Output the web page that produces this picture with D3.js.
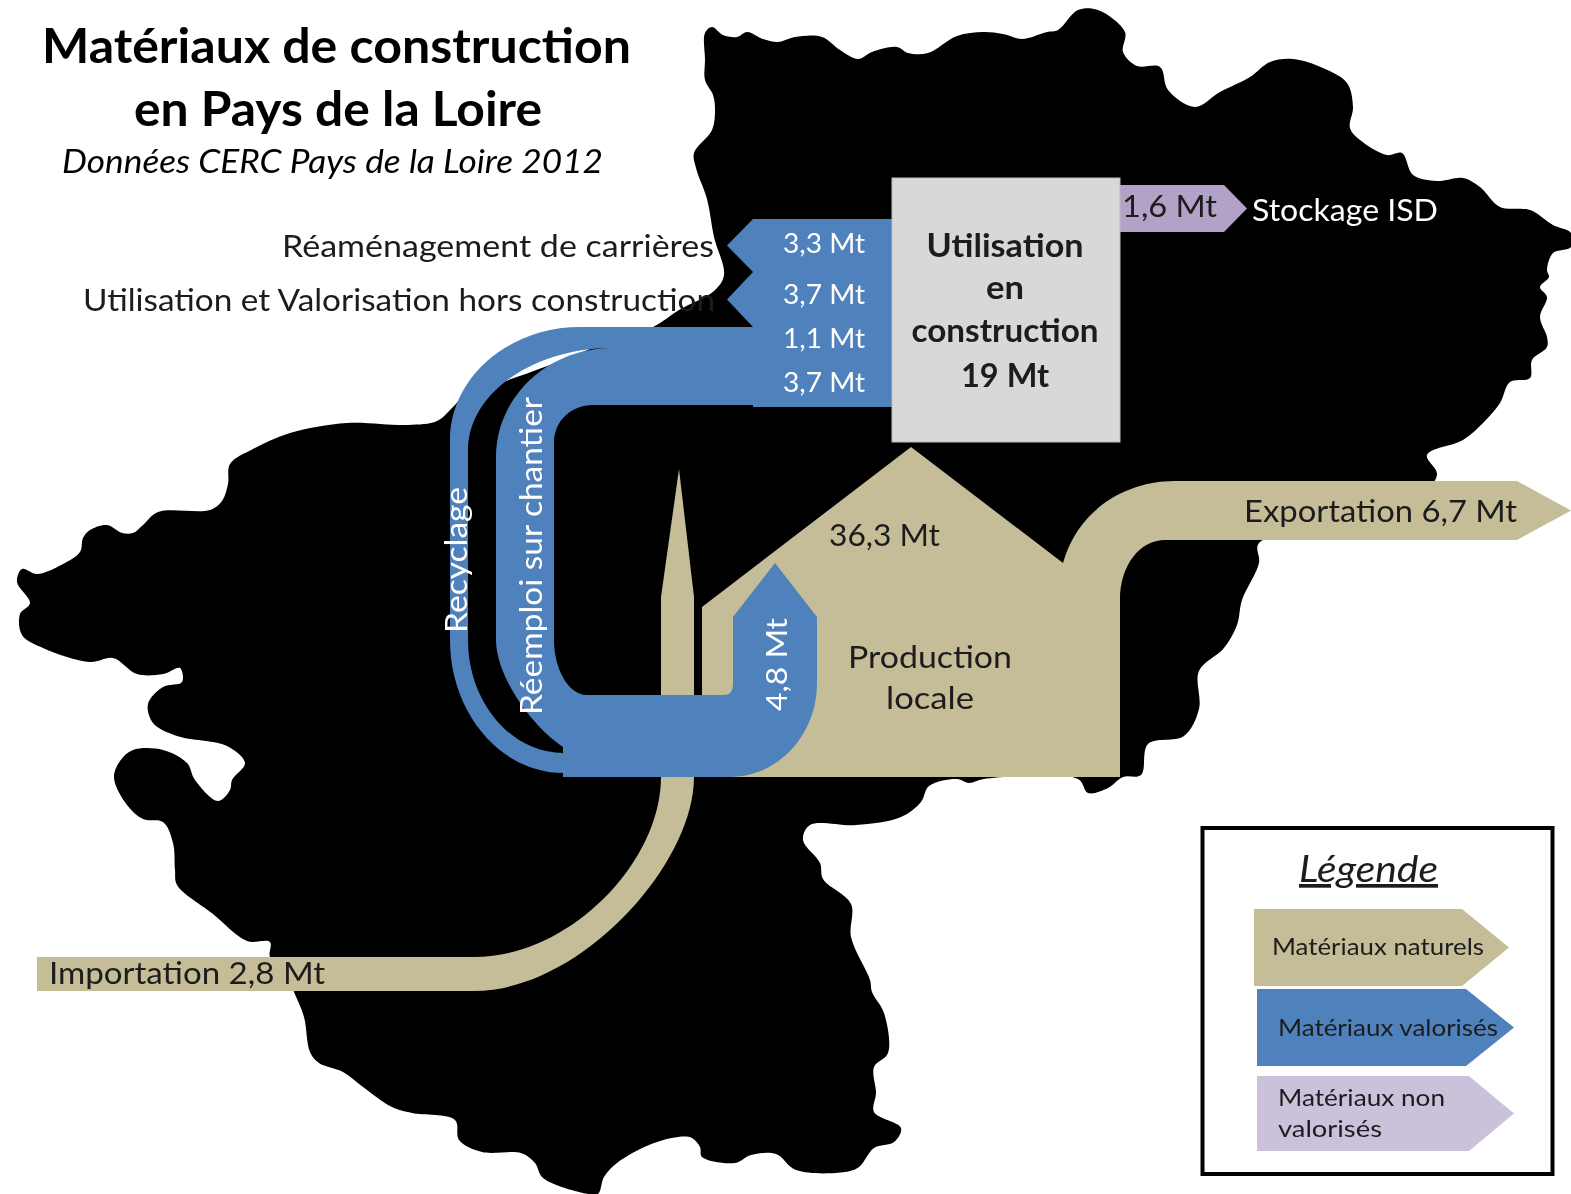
<!DOCTYPE html>
<html>
<head>
<meta charset="utf-8">
<script src="https://cdn.jsdelivr.net/npm/d3@7"></script>
<style>
  html, body { margin: 0; background: #fff; }
  svg { display: block; filter: blur(0.6px); }
  text { font-family: Lato, "Open Sans", sans-serif; }
</style>
</head>
<body>
<svg id="chart"></svg>
<script>
// Values (Mt)
var useNames = ['Réaménagement de carrières', 'Utilisation et Valorisation hors construction', 'Recyclage', 'Réemploi sur chantier'];
var useValues = [3.3, 3.7, 1.1, 3.7];
var usedTotal = 19;
var localProduction = 36.3;
var recycledInput = 4.8;
var exportValue = 6.7;
var importValue = 2.8;
var storedValue = 1.6;
var legendLabels = [['Matériaux naturels'], ['Matériaux valorisés'], ['Matériaux non', 'valorisés']];

// Region outline
var regionOutline = [[705,33],[712,27],[723,35],[737,37],[747,32],[763,39],[778,42],[795,37],[822,37],[840,50],[858,59],[872,52],[897,47],[908,53],[928,53],[957,36],[983,32],[1003,34],[1022,39],[1047,32],[1058,30],[1078,10],[1098,10],[1125,32],[1123,52],[1137,66],[1160,67],[1168,90],[1195,107],[1220,92],[1250,77],[1270,62],[1293,59],[1323,68],[1347,83],[1353,107],[1350,128],[1360,140],[1387,155],[1402,153],[1413,175],[1437,181],[1463,178],[1480,187],[1500,207],[1530,210],[1553,225],[1571,233],[1571,247],[1553,253],[1547,270],[1549,277],[1540,287],[1547,297],[1540,317],[1547,337],[1547,347],[1532,360],[1530,378],[1510,382],[1500,403],[1483,423],[1463,440],[1427,455],[1437,475],[1400,510],[1259,543],[1259,563],[1242,600],[1237,625],[1224,648],[1199,671],[1199,709],[1184,736],[1148,744],[1141,775],[1123,777],[1108,788],[1088,793],[1078,779],[984,779],[969,783],[957,779],[929,786],[921,802],[901,817],[856,825],[810,825],[803,840],[820,863],[823,879],[851,904],[851,937],[870,980],[872,992],[884,1013],[888,1053],[874,1067],[876,1093],[874,1112],[901,1128],[894,1142],[874,1148],[859,1167],[845,1172],[796,1170],[776,1154],[751,1155],[735,1163],[702,1157],[700,1147],[692,1138],[678,1137],[649,1145],[617,1163],[604,1177],[598,1194],[588,1194],[543,1178],[535,1163],[521,1153],[482,1152],[459,1140],[455,1120],[412,1113],[392,1107],[363,1087],[343,1072],[319,1063],[310,1052],[304,1017],[294,992],[285,970],[270,957],[270,942],[247,941],[213,914],[177,885],[175,870],[173,843],[163,822],[143,819],[127,805],[114,778],[120,761],[133,750],[163,750],[187,763],[195,780],[218,801],[230,790],[232,780],[245,763],[227,746],[177,736],[153,723],[148,704],[163,687],[182,682],[180,668],[163,674],[137,674],[113,658],[90,662],[43,648],[22,635],[20,614],[30,603],[17,582],[22,569],[37,574],[63,564],[80,552],[83,538],[90,530],[107,525],[122,533],[133,533],[143,525],[158,512],[210,510],[222,501],[228,484],[230,464],[253,449],[290,433],[347,423],[408,425],[437,421],[453,407],[464,396],[500,383],[550,365],[600,345],[653,327],[679,310],[714,291],[724,275],[714,237],[707,199],[696,168],[694,153],[712,130],[715,110],[713,95],[705,80],[705,60]];

var width = 1571;
var height = 1194;
var blue = '#4f81bd', tan = '#c4bd97', purple = '#b2a2c7', lilac = '#ccc1da', ink = '#1c1c1c';
var frFormat = d3.formatLocale({ decimal: ',', thousands: ' ', grouping: [3], currency: ['', ''] }).format('.1f');
var mt = function (v) { return frFormat(v) + ' Mt'; };

var svg = d3.select('#chart').attr('width', width).attr('height', height);
svg.append('rect').attr('width', width).attr('height', height).attr('fill', '#fff');

// Scales: every band is placed by turning its value into pixels
var cumUse = [0].concat(Array.from(d3.cumsum(useValues)));
var yUse = d3.scaleLinear().domain(cumUse).range([219, 272, 327, 348, 405]);
var xRecycle = d3.scaleLinear().domain([0, useValues[2]]).range([450, 468]);
var xReuse = d3.scaleLinear().domain([0, useValues[3]]).range([496, 554]);
var xInput = d3.scaleLinear().domain([0, recycledInput]).range([733, 817]);
var yExport = d3.scaleLinear().domain([0, exportValue]).range([481, 540]);
var yImport = d3.scaleLinear().domain([0, importValue]).range([957, 991]);
var xImport = d3.scaleLinear().domain([0, importValue]).range([661, 694]);
var yStock = d3.scaleLinear().domain([0, storedValue]).range([185, 232]);

// Map
svg.append('path')
    .attr('d', d3.line().curve(d3.curveCatmullRomClosed.alpha(0.5))(regionOutline))
    .attr('fill', '#000');

// Importation
var imp = d3.path();
imp.moveTo(37, yImport(0));
imp.lineTo(474, yImport(0));
imp.bezierCurveTo(570, yImport(0), xImport(0), 862, xImport(0), 777);
imp.lineTo(xImport(0), 597);
imp.lineTo(679, 469);
imp.lineTo(xImport(importValue), 597);
imp.lineTo(xImport(importValue), 777);
imp.bezierCurveTo(xImport(importValue), 865, 580, yImport(importValue), 474, yImport(importValue));
imp.lineTo(37, yImport(importValue));
imp.closePath();
svg.append('path').attr('d', imp.toString()).attr('fill', tan);

// Production locale + Exportation
var prod = d3.path();
prod.moveTo(702, 607);
prod.lineTo(911, 447);
prod.lineTo(1063, 563);
prod.bezierCurveTo(1078, 510, 1125, yExport(0), 1175, yExport(0));
prod.lineTo(1517, yExport(0));
prod.lineTo(1571, (yExport(0) + yExport(exportValue)) / 2);
prod.lineTo(1517, yExport(exportValue));
prod.lineTo(1165, yExport(exportValue));
prod.bezierCurveTo(1140, yExport(exportValue), 1120, 565, 1120, 600);
prod.lineTo(1120, 777);
prod.lineTo(702, 777);
prod.closePath();
svg.append('path').attr('d', prod.toString()).attr('fill', tan);

// Recyclage band
var rec = d3.path();
rec.moveTo(753, yUse(cumUse[2]));
rec.lineTo(580, yUse(cumUse[2]));
rec.bezierCurveTo(508, yUse(cumUse[2]), xRecycle(0), 378, xRecycle(0), 440);
rec.lineTo(xRecycle(0), 640);
rec.bezierCurveTo(xRecycle(0), 713, 501, 773, 563, 773);
rec.lineTo(563, 753);
rec.bezierCurveTo(511, 753, xRecycle(useValues[2]), 702, xRecycle(useValues[2]), 640);
rec.lineTo(xRecycle(useValues[2]), 450);
rec.bezierCurveTo(xRecycle(useValues[2]), 394, 533, yUse(cumUse[3]), 612, yUse(cumUse[3]));
rec.lineTo(753, yUse(cumUse[3]));
rec.closePath();
svg.append('path').attr('d', rec.toString()).attr('fill', blue);

// Réemploi band joined to the recycled input arrow
var reuse = d3.path();
reuse.moveTo(753, yUse(cumUse[3]));
reuse.lineTo(612, yUse(cumUse[3]));
reuse.bezierCurveTo(548, yUse(cumUse[3]), xReuse(0), 397, xReuse(0), 457);
reuse.lineTo(xReuse(0), 640);
reuse.bezierCurveTo(xReuse(0), 675, 530, 725, 563, 747);
reuse.lineTo(563, 777);
reuse.lineTo(730, 777);
reuse.bezierCurveTo(778, 777, xInput(recycledInput), 735, xInput(recycledInput), 683);
reuse.lineTo(xInput(recycledInput), 617);
reuse.lineTo(775, 563);
reuse.lineTo(xInput(0), 617);
reuse.lineTo(xInput(0), 685);
reuse.quadraticCurveTo(xInput(0), 695, 723, 695);
reuse.lineTo(587, 695);
reuse.bezierCurveTo(568, 695, xReuse(useValues[3]), 668, xReuse(useValues[3]), 640);
reuse.lineTo(xReuse(useValues[3]), 443);
reuse.bezierCurveTo(xReuse(useValues[3]), 420, 572, yUse(cumUse[4]), 593, yUse(cumUse[4]));
reuse.lineTo(753, yUse(cumUse[4]));
reuse.closePath();
svg.append('path').attr('d', reuse.toString()).attr('fill', blue);

// The four bands going into the box: two leave as arrows, two are plain
svg.selectAll('.use-band')
    .data(useValues)
    .enter().append('path')
    .attr('class', 'use-band')
    .attr('fill', blue)
    .attr('d', function (d, i) {
        var y0 = yUse(cumUse[i]), y1 = yUse(cumUse[i + 1]);
        var p = d3.path();
        p.moveTo(892, y0);
        p.lineTo(753, y0);
        if (i < 2) p.lineTo(727, (y0 + y1) / 2);
        p.lineTo(753, i == 3 ? y1 + 2 : y1);
        p.lineTo(892, i == 3 ? y1 + 2 : y1);
        p.closePath();
        return p.toString();
    });

// Stockage arrow
var stock = d3.path();
stock.moveTo(1118, yStock(0));
stock.lineTo(1224, yStock(0));
stock.lineTo(1247, (yStock(0) + yStock(storedValue)) / 2);
stock.lineTo(1224, yStock(storedValue));
stock.lineTo(1118, yStock(storedValue));
stock.closePath();
svg.append('path').attr('d', stock.toString()).attr('fill', purple);

// Utilisation box
svg.append('rect')
    .attr('x', 892).attr('y', 178)
    .attr('width', 228).attr('height', 264)
    .attr('fill', '#d8d8d8').attr('stroke', '#bdbdbd').attr('stroke-width', 1);

// Text helper, the widths are forced so the lines sit like in the picture
function label(str, x, y, size, opts) {
    opts = opts || {};
    var t = svg.append('text')
        .attr('x', x).attr('y', y)
        .attr('font-size', size)
        .attr('fill', opts.fill || ink)
        .attr('text-anchor', opts.anchor || 'start')
        .attr('font-weight', opts.weight || 400)
        .attr('font-style', opts.italic ? 'italic' : 'normal')
        .text(str);
    if (opts.len) t.attr('textLength', opts.len).attr('lengthAdjust', 'spacingAndGlyphs');
    if (opts.rotate) t.attr('transform', 'rotate(-90 ' + x + ' ' + y + ')');
    if (opts.underline) t.attr('text-decoration', 'underline');
    return t;
}

label('Matériaux de construction', 42, 63, 48, { weight: 700, len: 589, fill: '#000' });
label('en Pays de la Loire', 134, 126, 48, { weight: 700, len: 408, fill: '#000' });
label('Données CERC Pays de la Loire 2012', 62, 173, 33, { italic: true, len: 541, fill: '#000' });

label(useNames[0], 282, 257, 31, { len: 432 });
label(useNames[1], 83, 311, 31, { len: 632 });
label(useNames[2], 467, 633, 30, { rotate: true, len: 146, fill: '#fff' });
label(useNames[3], 542, 715, 31, { rotate: true, len: 318, fill: '#fff' });

var useLabelY = [253, 304, 348, 392];
useValues.forEach(function (v, i) {
    label(mt(v), 783, useLabelY[i], 27, { len: 82, fill: '#fff' });
});
label(mt(recycledInput), 787, 711, 29, { rotate: true, len: 93, fill: '#fff' });

var boxLines = [['Utilisation', 157, 257], ['en', 38, 299], ['construction', 187, 342], [usedTotal + ' Mt', 88, 387]];
boxLines.forEach(function (l) {
    label(l[0], 1005, l[2], 32, { weight: 700, anchor: 'middle', len: l[1] });
});

label(mt(storedValue), 1122, 217, 31, { len: 95 });
label('Stockage ISD', 1252, 221, 31, { len: 186, fill: '#fff' });
label('Exportation ' + mt(exportValue), 1244, 522, 31, { len: 273 });
label(mt(localProduction), 829, 546, 31, { len: 111 });
label('Production', 848, 668, 31, { len: 164 });
label('locale', 886, 709, 31, { len: 88 });
label('Importation ' + mt(importValue), 49, 984, 31, { len: 276 });

// Legend
svg.append('rect')
    .attr('x', 1202.5).attr('y', 828)
    .attr('width', 350).attr('height', 346)
    .attr('fill', '#fff').attr('stroke', '#000').attr('stroke-width', 4);
label('Légende', 1299, 882, 37, { italic: true, len: 139, underline: true });

var legendColors = [tan, blue, lilac];
var legendBoxes = [[1254, 1462, 1509, 909, 986], [1257, 1466, 1514, 989, 1066], [1257, 1469, 1514, 1076, 1151]];
svg.selectAll('.legend-arrow')
    .data(legendBoxes)
    .enter().append('path')
    .attr('class', 'legend-arrow')
    .attr('fill', function (d, i) { return legendColors[i]; })
    .attr('d', function (d) {
        var p = d3.path();
        p.moveTo(d[0], d[3]);
        p.lineTo(d[1], d[3]);
        p.lineTo(d[2], (d[3] + d[4]) / 2);
        p.lineTo(d[1], d[4]);
        p.lineTo(d[0], d[4]);
        p.closePath();
        return p.toString();
    });

label(legendLabels[0][0], 1272, 955, 24, { len: 212 });
label(legendLabels[1][0], 1278, 1036, 24, { len: 220 });
label(legendLabels[2][0], 1278, 1106, 24, { len: 167 });
label(legendLabels[2][1], 1278, 1137, 24, { len: 104 });
</script>
</body>
</html>
